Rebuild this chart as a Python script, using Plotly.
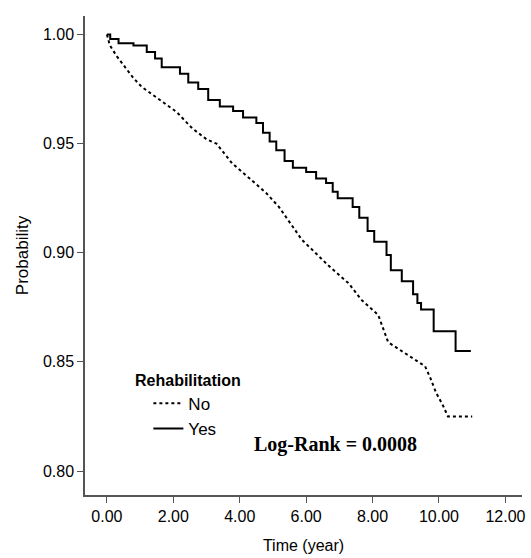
import plotly.graph_objects as go

# --- DATA ---
yes_time = [0, 0.1, 0.35, 0.8, 1.2, 1.45, 1.65, 2.2, 2.45, 2.75, 3.05, 3.4, 3.8, 4.1, 4.5,
            4.7, 4.9, 5.1, 5.35, 5.6, 6.0, 6.3, 6.6, 6.8, 6.95, 7.4, 7.6, 7.85, 8.05,
            8.42, 8.55, 8.88, 9.22, 9.35, 9.46, 9.84, 10.5, 10.96]
yes_prob = [1.0, 0.998, 0.996, 0.995, 0.992, 0.989, 0.985, 0.982, 0.978, 0.975, 0.970,
            0.967, 0.965, 0.962, 0.9595, 0.955, 0.951, 0.947, 0.942, 0.939, 0.937, 0.934,
            0.932, 0.928, 0.925, 0.921, 0.916, 0.910, 0.905, 0.899, 0.892, 0.887, 0.881,
            0.877, 0.874, 0.864, 0.855, 0.855]

no_time = [0, 0.09, 0.3, 0.54, 0.8, 1.05, 1.5, 2.1, 2.57, 3.0, 3.3, 3.77, 4.3, 4.79,
           5.18, 5.87, 6.68, 7.28, 7.66, 8.17, 8.47, 8.98, 9.58, 9.73, 9.91, 10.12,
           10.27, 11.0]
no_prob = [1.0, 0.995, 0.990, 0.985, 0.980, 0.976, 0.971, 0.9645, 0.957, 0.952, 0.950,
           0.941, 0.934, 0.9275, 0.921, 0.906, 0.894, 0.886, 0.8785, 0.8715, 0.859,
           0.854, 0.848, 0.843, 0.836, 0.830, 0.825, 0.825]

x_ticks = [0, 2, 4, 6, 8, 10, 12]
x_labels = ["0.00", "2.00", "4.00", "6.00", "8.00", "10.00", "12.00"]
y_ticks = [0.80, 0.85, 0.90, 0.95, 1.00]
y_labels = ["0.80", "0.85", "0.90", "0.95", "1.00"]

FONT = "Liberation Sans, Arial, sans-serif"
AXIS_COL = "#555555"

fig = go.Figure()
fig.add_trace(go.Scatter(x=no_time, y=no_prob, mode="lines", name="No",
                         line=dict(color="black", width=2, dash="dot")))
fig.add_trace(go.Scatter(x=yes_time, y=yes_prob, mode="lines", name="Yes",
                         line=dict(color="black", width=2, shape="hv")))

fig.update_layout(
    width=531, height=558,
    margin=dict(l=85, r=6, t=16, b=62),
    paper_bgcolor="white", plot_bgcolor="white",
    font=dict(family=FONT, color="black", size=16),
    showlegend=True,
    legend=dict(x=0.145, y=0.228, xanchor="left", yanchor="top",
                bgcolor="rgba(0,0,0,0)", font=dict(size=17),
                itemwidth=30, tracegroupgap=0),
    xaxis=dict(range=[-0.66, 12.5], tickvals=x_ticks, ticktext=x_labels,
               showgrid=False, zeroline=False, showline=True, linecolor=AXIS_COL,
               linewidth=1.5, ticks="outside", ticklen=6, tickcolor=AXIS_COL,
               tickfont=dict(size=16), ticklabeloverflow="allow",
               title=dict(text="Time (year)", font=dict(size=16), standoff=16)),
    yaxis=dict(range=[0.789, 1.0085], tickvals=y_ticks, ticktext=y_labels,
               showgrid=False, zeroline=False, showline=True, linecolor=AXIS_COL,
               linewidth=1.5, ticks="outside", ticklen=6, tickcolor=AXIS_COL,
               tickfont=dict(size=16),
               title=dict(text="Probability", font=dict(size=17), standoff=10)),
)

fig.add_annotation(text="<b>Rehabilitation</b>", xref="paper", yref="paper",
                   x=(133 - 85) / 440, y=(496 - 381) / 480, xanchor="left",
                   yanchor="middle", showarrow=False, font=dict(size=16))
fig.add_annotation(text="<b>Log-Rank = 0.0008</b>", xref="paper", yref="paper",
                   x=(337 - 85) / 440, y=(496 - 445) / 480, xanchor="center",
                   yanchor="middle", showarrow=False,
                   font=dict(size=20, family="Liberation Serif, Times New Roman, serif"))

# drop the default body margin so the figure fills the window exactly
fig.write_html("out.html", config={"displayModeBar": False},
               post_script="document.body.style.margin='0';"
                           "document.documentElement.style.overflow='hidden';")
